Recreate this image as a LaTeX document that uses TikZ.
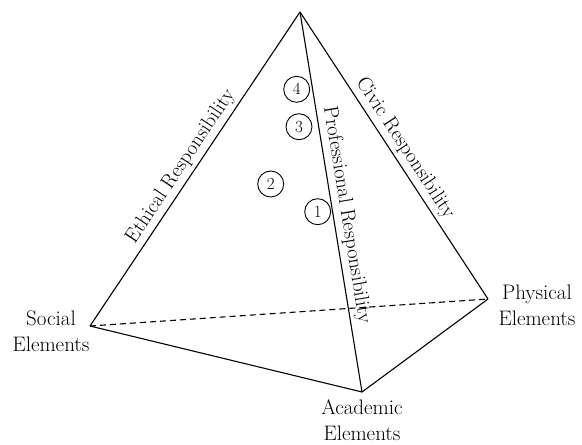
\documentclass[tikz,border=0pt]{standalone}
\usepackage{fontspec}
\begin{document}
\begin{tikzpicture}[x=1pt,y=-1pt,line width=1.1pt,
  lab/.style={sloped, anchor=south, inner sep=3.5pt, font=\fontsize{20.5}{24}\selectfont},
  corner/.style={align=center, inner sep=0pt, font=\fontsize{21}{26}\selectfont},
  num/.style={circle, draw, line width=0.9pt, minimum size=26pt, inner sep=0pt, font=\fontsize{17}{17}\selectfont},
  hidden/.style={dash pattern=on 6pt off 4pt}]
\useasboundingbox (0,0) rectangle (582,445);
\coordinate (T) at (300,12);
\coordinate (S) at (90,326);
\coordinate (P) at (488,299);
\coordinate (A) at (362,392);
\draw[hidden] (S) -- (P);
\draw (S) -- node[lab, pos=0.485] (eth) {Ethical Responsibility} (T);
\draw (T) -- node[lab, pos=0.5] (civ) {Civic Responsibility} (P);
\draw (T) -- node[lab, pos=0.54] (pro) {Professional Responsibility} (A);
\draw (S) -- (A) -- (P);
\node[num] (n4) at (296.7,89.3) {4};
\node[num] (n3) at (299,126.7) {3};
\node[num] (n2) at (270.7,184) {2};
\node[num] (n1) at (317.7,211.7) {1};
\node[corner] (soc) at (51,331) {Social\\Elements};
\node[corner] (phy) at (537,305) {Physical\\Elements};
\node[corner] (aca) at (362,420) {Academic\\Elements};
\end{tikzpicture}
\end{document}
